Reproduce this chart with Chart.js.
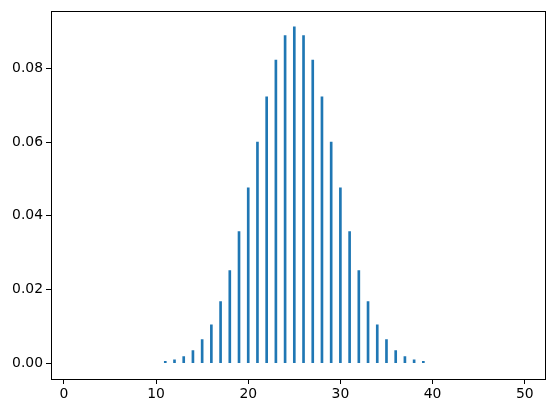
<!DOCTYPE html>
<html>
<head>
<meta charset="utf-8">
<script src="https://cdn.jsdelivr.net/npm/chart.js@4.4.0/dist/chart.umd.min.js"></script>
<style>
    html, body { margin: 0; padding: 0; background: #fff; }
    canvas { display: block; }
</style>
</head>
<body>
<canvas id="pmf-chart" width="556" height="413"></canvas>
<script>
// --- DATA ---
const outcomes = [11, 12, 13, 14, 15, 16, 17, 18, 19, 20, 21, 22, 23, 24, 25,
                  26, 27, 28, 29, 30, 31, 32, 33, 34, 35, 36, 37, 38, 39];
const probabilities = [0.0005, 0.0009, 0.0018, 0.0034, 0.0064, 0.0104, 0.0167, 0.0251, 0.0357, 0.0476,
                       0.0600, 0.0723, 0.0823, 0.0889, 0.0913, 0.0889, 0.0823, 0.0723, 0.0600, 0.0476,
                       0.0357, 0.0251, 0.0167, 0.0104, 0.0064, 0.0034, 0.0018, 0.0009, 0.0005];
const xTicks = [0, 10, 20, 30, 40, 50];
const yTicks = [0.00, 0.02, 0.04, 0.06, 0.08];

// --- CONFIG ---
const tickFont = { family: 'DejaVu Sans', size: 13.9 };
const frame = {
    id: 'frame',
    afterDraw(chart) {
        const { ctx, chartArea: a } = chart;
        ctx.save();
        ctx.strokeStyle = '#000';
        ctx.lineWidth = 1;
        ctx.strokeRect(Math.round(a.left) + 0.5, Math.round(a.top) + 0.5,
                       Math.round(a.right - a.left), Math.round(a.bottom - a.top));
        ctx.restore();
    }
};

new Chart(document.getElementById('pmf-chart'), {
    type: 'bar',
    data: {
        datasets: [{
            data: outcomes.map((k, i) => ({ x: k, y: probabilities[i] })),
            backgroundColor: '#1f77b4',
            borderWidth: 0,
            barThickness: 2,
        }]
    },
    options: {
        responsive: false,
        animation: false,
        devicePixelRatio: 1,
        layout: { padding: { left: 0, top: 11, right: 11, bottom: 0 } },
        plugins: { legend: { display: false }, tooltip: { enabled: false } },
        scales: {
            x: {
                type: 'linear',
                min: -1.4,
                max: 52.2,
                offset: false,
                afterBuildTicks: (s) => { s.ticks = xTicks.map(v => ({ value: v })); },
                afterFit: (s) => { s.height = 34; },
                grid: { display: true, drawOnChartArea: false, offset: false, tickLength: 5, tickColor: '#000', tickWidth: 1 },
                border: { display: false },
                ticks: { color: '#000', font: tickFont, padding: 2, maxRotation: 0, autoSkip: false },
            },
            y: {
                min: -0.0043,
                max: 0.0955,
                afterBuildTicks: (s) => { s.ticks = yTicks.map(v => ({ value: v })); },
                afterFit: (s) => { s.width = 51; },
                grid: { display: true, drawOnChartArea: false, tickLength: 5, tickColor: '#000', tickWidth: 1 },
                border: { display: false },
                ticks: { color: '#000', font: tickFont, padding: 3, callback: (v) => v.toFixed(2) },
            }
        }
    },
    plugins: [frame]
});
</script>
</body>
</html>
